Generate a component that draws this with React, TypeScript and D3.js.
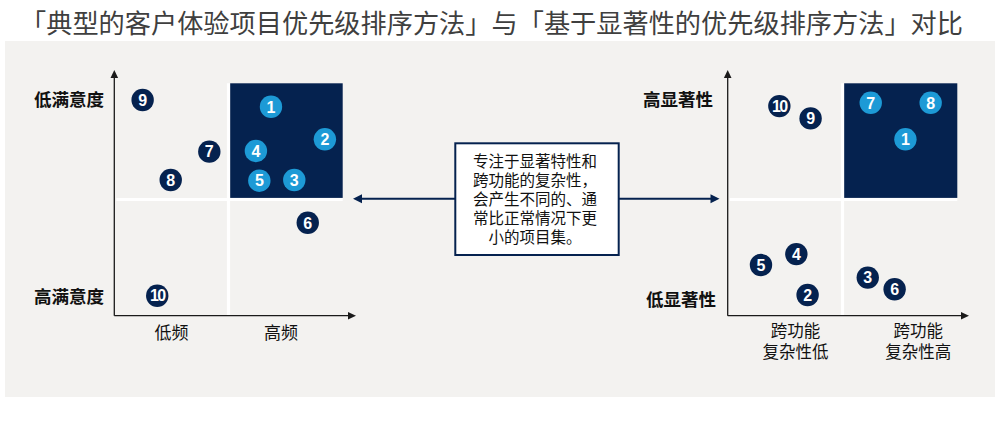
import React from "react";
import * as d3 from "d3";

const TITLE = "「典型的客户体验项目优先级排序方法」与「基于显著性的优先级排序方法」对比";

// Left chart: frequency (x) vs satisfaction (y; top = low satisfaction)
const leftIds = ["1", "2", "3", "4", "5", "6", "7", "8", "9", "10"];
const leftX = [6.86, 9.22, 7.88, 6.2, 6.35, 8.47, 4.16, 2.47, 1.24, 1.88];
const leftY = [8.99, 7.59, 5.84, 7.09, 5.81, 4.0, 7.06, 5.84, 9.28, 0.86];
const leftYLabels = ["低满意度", "高满意度"];
const leftXLabels = ["低频", "高频"];

// Right chart: cross-functional complexity (x) vs salience (y)
const rightIds = ["10", "9", "7", "8", "1", "4", "5", "2", "3", "6"];
const rightX = [2.25, 3.61, 6.23, 8.84, 7.74, 2.99, 1.45, 3.48, 6.1, 7.27];
const rightY = [9.02, 8.49, 9.16, 9.16, 7.59, 2.65, 2.18, 0.89, 1.64, 1.14];
const rightYLabels = ["高显著性", "低显著性"];
const rightXLabels = [["跨功能", "复杂性低"], ["跨功能", "复杂性高"]];

const boxLines = [
  "专注于显著特性和",
  "跨功能的复杂性，",
  "会产生不同的、通",
  "常比正常情况下更",
  "小的项目集。",
];

const NAVY = "#05224f";
const LIGHT = "#1d9ad6";
const BG = "#f3f2f0";
const AXIS = "#1a1a1a";
const CJK = "'Noto Sans CJK SC', 'Noto Sans', sans-serif";
const NUM = "'Liberation Sans', Arial, sans-serif";

type QuadProps = {
  x0: number;
  x1: number;
  ids: string[];
  xs: number[];
  ys: number[];
  arrowTip: number;
};

const Y0 = 315.7;
const Y1 = 83.3;

function Quad({ x0, x1, ids, xs, ys, arrowTip }: QuadProps) {
  const x = d3.scaleLinear().domain([0, 10]).range([x0, x1]);
  const y = d3.scaleLinear().domain([0, 10]).range([Y0, Y1]);
  const mx = x(5);
  const my = y(5);
  const gap = 1.6;
  return (
    <g>
      <rect x={mx + gap} y={y(10)} width={x(10) - mx - gap} height={my - gap - y(10)} fill={NAVY} />
      <line x1={mx} x2={mx} y1={y(10)} y2={Y0} stroke="#ffffff" strokeWidth={3.2} />
      <line x1={x0 + 2} x2={x(10)} y1={my} y2={my} stroke="#ffffff" strokeWidth={3.2} />
      {/* axes */}
      <line x1={x0} x2={x0} y1={Y0} y2={76} stroke={AXIS} strokeWidth={1.3} />
      <path d={`M${x0},70 L${x0 - 3.8},78 L${x0 + 3.8},78 Z`} fill={AXIS} />
      <line x1={x0} x2={arrowTip - 6} y1={Y0} y2={Y0} stroke={AXIS} strokeWidth={1.3} />
      <path d={`M${arrowTip},${Y0} L${arrowTip - 8},${Y0 - 3.8} L${arrowTip - 8},${Y0 + 3.8} Z`} fill={AXIS} />
      {ids.map((id, i) => {
        const cx = x(xs[i]);
        const cy = y(ys[i]);
        const hi = xs[i] > 5 && ys[i] > 5;
        return (
          <g key={id}>
            <circle cx={cx} cy={cy} r={11.2} fill={hi ? LIGHT : NAVY} />
            <text
              x={cx}
              y={cy}
              dy="0.36em"
              textAnchor="middle"
              fill="#ffffff"
              fontFamily={NUM}
              fontWeight="bold"
              fontSize={16}
              letterSpacing={id.length > 1 ? -1.6 : 0}
            >
              {id}
            </text>
          </g>
        );
      })}
    </g>
  );
}

export default function App() {
  const lx = d3.scaleLinear().domain([0, 10]).range([114.3, 342.7]);
  const rx = d3.scaleLinear().domain([0, 10]).range([727.7, 957.3]);
  const ly = d3.scaleLinear().domain([0, 10]).range([Y0, Y1]);
  const boxX0 = 455.3;
  const boxX1 = 618.7;
  const boxY0 = 143.3;
  const boxY1 = 255;
  const midY = 198.7;
  const boxCx = (boxX0 + boxX1) / 2;
  return (
    <svg
      width={1000}
      height={430}
      style={{ position: "absolute", left: 0, top: 0, background: "#ffffff" }}
    >
      <rect x={0} y={0} width={1000} height={430} fill="#ffffff" />
      <text
        x={20}
        y={33}
        fontFamily={CJK}
        fontSize={26}
        fill="#3f3f3f"
        textLength={943}
        lengthAdjust="spacingAndGlyphs"
      >
        {TITLE}
      </text>
      <rect x={5} y={41} width={990} height={356} fill={BG} />

      <Quad x0={114.3} x1={342.7} ids={leftIds} xs={leftX} ys={leftY} arrowTip={356} />
      <Quad x0={727.7} x1={957.3} ids={rightIds} xs={rightX} ys={rightY} arrowTip={969} />

      {/* left labels */}
      <text x={104} y={ly(9.28)} dy="0.36em" textAnchor="end" fontFamily={CJK} fontWeight="bold" fontSize={17.5} fill="#111">
        {leftYLabels[0]}
      </text>
      <text x={104} y={297} dy="0.36em" textAnchor="end" fontFamily={CJK} fontWeight="bold" fontSize={17.5} fill="#111">
        {leftYLabels[1]}
      </text>
      {leftXLabels.map((t, i) => (
        <text key={t} x={lx(i === 0 ? 2.5 : 7.3)} y={333} dy="0.36em" textAnchor="middle" fontFamily={CJK} fontSize={17} fill="#111">
          {t}
        </text>
      ))}

      {/* right labels */}
      <text x={713} y={100} dy="0.36em" textAnchor="end" fontFamily={CJK} fontWeight="bold" fontSize={17.5} fill="#111">
        {rightYLabels[0]}
      </text>
      <text x={716} y={300} dy="0.36em" textAnchor="end" fontFamily={CJK} fontWeight="bold" fontSize={17.5} fill="#111">
        {rightYLabels[1]}
      </text>
      {rightXLabels.map((lines, i) => (
        <text key={i} x={rx(i === 0 ? 2.95 : 8.3)} y={331} textAnchor="middle" fontFamily={CJK} fontSize={16.5} fill="#111">
          {lines.map((l, j) => (
            <tspan key={j} x={rx(i === 0 ? 2.95 : 8.3)} y={331 + j * 21} dy="0.36em">
              {l}
            </tspan>
          ))}
        </text>
      ))}

      {/* center connectors */}
      <line x1={boxX0} x2={361} y1={midY} y2={midY} stroke={NAVY} strokeWidth={2} />
      <path d={`M353,${midY} L362,${midY - 4.5} L362,${midY + 4.5} Z`} fill={NAVY} />
      <line x1={boxX1} x2={711} y1={midY} y2={midY} stroke={NAVY} strokeWidth={2} />
      <path d={`M719.5,${midY} L710.5,${midY - 4.5} L710.5,${midY + 4.5} Z`} fill={NAVY} />
      <rect x={boxX0} y={boxY0} width={boxX1 - boxX0} height={boxY1 - boxY0} fill="#ffffff" stroke={NAVY} strokeWidth={2} />
      <text textAnchor="middle" fontFamily={CJK} fontSize={15.5} fill="#111">
        {boxLines.map((l, i) => (
          <tspan key={i} x={boxCx - 2} y={161 + i * 19} dy="0.36em">
            {l}
          </tspan>
        ))}
      </text>
    </svg>
  );
}
